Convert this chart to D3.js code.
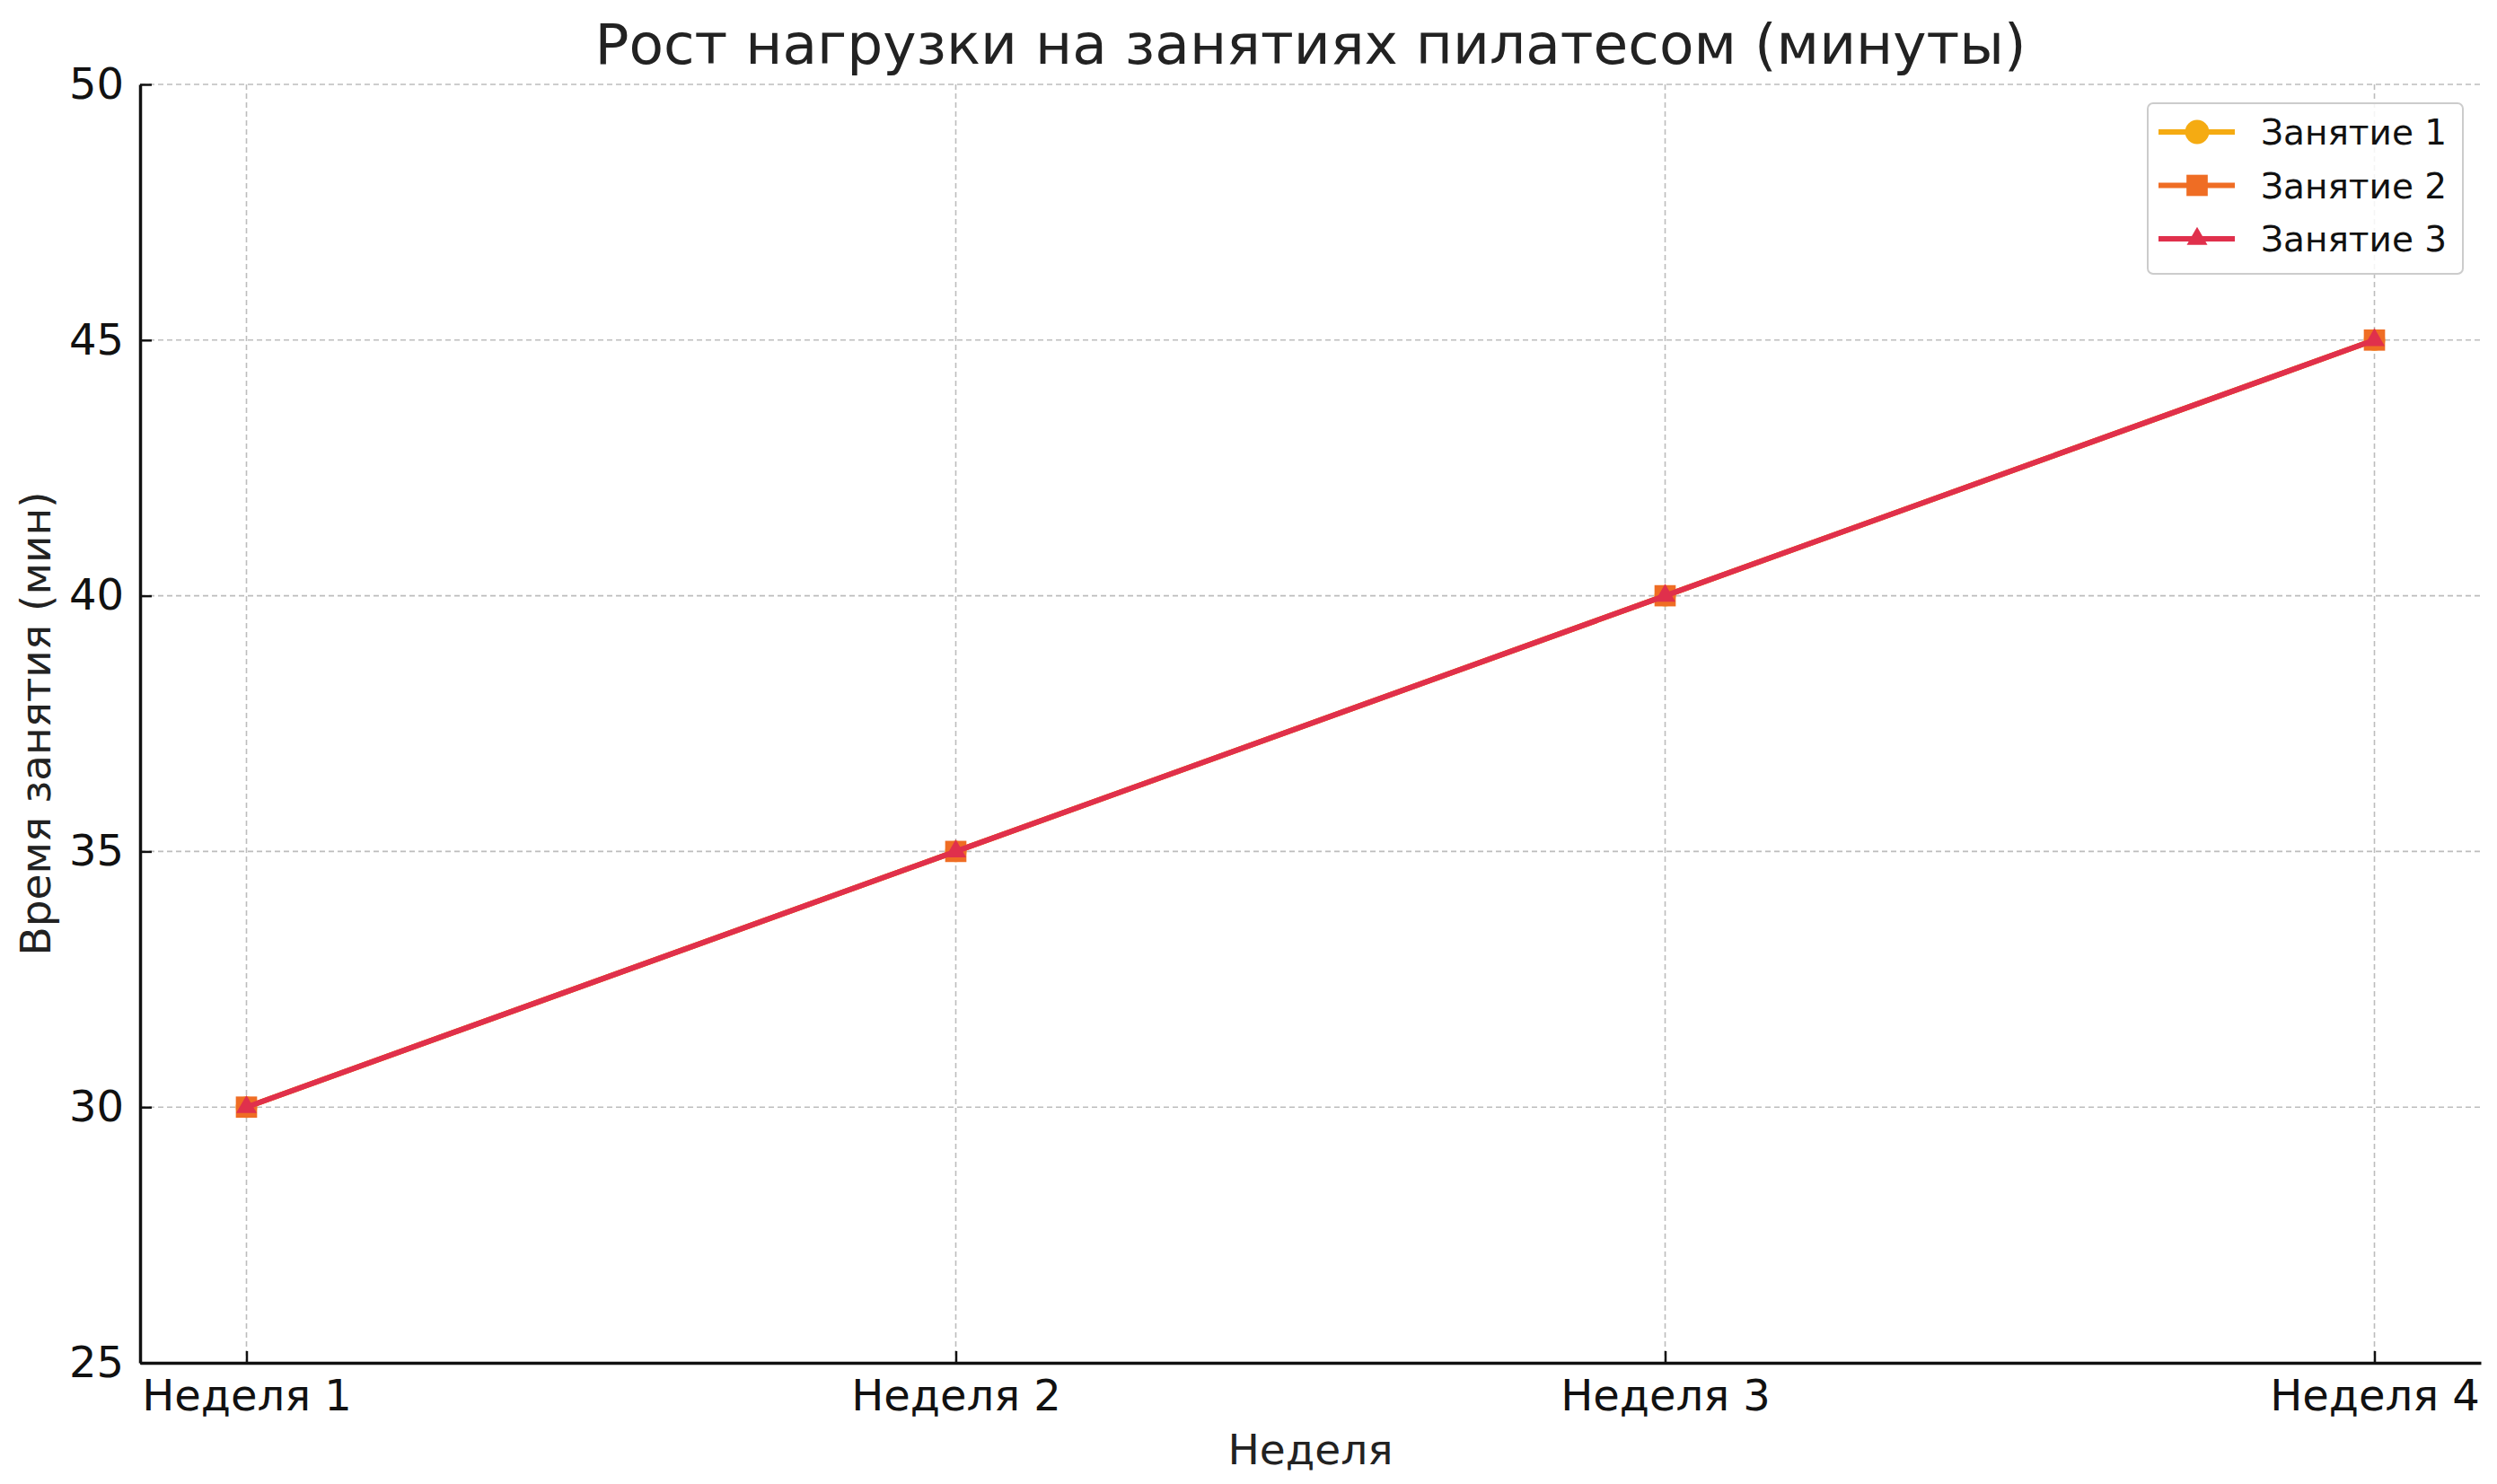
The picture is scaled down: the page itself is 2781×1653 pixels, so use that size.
<!DOCTYPE html>
<html>
<head>
<meta charset="utf-8">
<script src="https://cdn.jsdelivr.net/npm/d3@7"></script>
<style>
  body { margin: 0; background: #fff; }
  svg { display: block; font-family: "DejaVu Sans", sans-serif; }
</style>
</head>
<body>
<svg id="chart" width="2781" height="1653"></svg>
<script>
// data
var weeks = ['Неделя 1', 'Неделя 2', 'Неделя 3', 'Неделя 4']
var session1 = [30, 35, 40, 45]
var session2 = [30, 35, 40, 45]
var session3 = [30, 35, 40, 45]
var seriesNames = ['Занятие 1', 'Занятие 2', 'Занятие 3']
var yTicks = [25, 30, 35, 40, 45, 50]

var series = [
  { name: seriesNames[0], values: session1, color: '#f5ab12', marker: 'circle' },
  { name: seriesNames[1], values: session2, color: '#ef6d24', marker: 'square' },
  { name: seriesNames[2], values: session3, color: '#e0304c', marker: 'triangle' }
]

var W = 2781, H = 1653
var margin = { left: 156, right: 18, top: 94, bottom: 135 }
var innerW = W - margin.left - margin.right
var innerH = H - margin.top - margin.bottom

var svg = d3.select('#chart')
var g = svg.append('g').attr('transform', 'translate(' + margin.left + ',' + margin.top + ')')

// matplotlib style 5% padding on the category axis
var x = d3.scaleLinear().domain([-0.15, weeks.length - 1 + 0.15]).range([0, innerW])
var y = d3.scaleLinear().domain([25, 50]).range([innerH, 0])

// grid
g.append('g').selectAll('line.gx')
  .data(weeks)
  .enter().append('line')
  .attr('x1', function (d, i) { return x(i) })
  .attr('x2', function (d, i) { return x(i) })
  .attr('y1', 0).attr('y2', innerH)
  .style('stroke', '#bdbdbd').style('stroke-width', 1.6).style('stroke-dasharray', '6,4')

g.append('g').selectAll('line.gy')
  .data(yTicks)
  .enter().append('line')
  .attr('x1', 0).attr('x2', innerW)
  .attr('y1', function (d) { return y(d) })
  .attr('y2', function (d) { return y(d) })
  .style('stroke', '#bdbdbd').style('stroke-width', 1.6).style('stroke-dasharray', '6,4')

// axes
var xAxis = d3.axisBottom(x)
  .tickValues(d3.range(weeks.length))
  .tickFormat(function (i) { return weeks[i] })
  .tickSizeInner(-13).tickSizeOuter(0).tickPadding(19)

var yAxis = d3.axisLeft(y)
  .tickValues(yTicks)
  .tickSizeInner(-13).tickSizeOuter(0).tickPadding(18)

var gx = g.append('g').attr('transform', 'translate(0,' + innerH + ')').call(xAxis)
var gy = g.append('g').call(yAxis)

;[gx, gy].forEach(function (a) {
  a.select('.domain').style('stroke', '#111').style('stroke-width', 3.5)
  a.selectAll('.tick line').style('stroke', '#111').style('stroke-width', 2.5)
  a.selectAll('.tick text').style('font-size', '48px').style('fill', '#111')
    .style('font-family', '"DejaVu Sans", sans-serif')
})

// lines and markers
var line = d3.line()
  .x(function (d, i) { return x(i) })
  .y(function (d) { return y(d) })

var markerSize = { circle: 450, square: 560, triangle: 230 }

function markerPath (type, k) {
  var sym = type === 'circle' ? d3.symbolCircle : type === 'square' ? d3.symbolSquare : d3.symbolTriangle
  return d3.symbol().type(sym).size(markerSize[type] * k)()
}

series.forEach(function (s) {
  g.append('path')
    .datum(s.values)
    .attr('d', line)
    .style('fill', 'none')
    .style('stroke', s.color)
    .style('stroke-width', 6)

  g.append('g').selectAll('path')
    .data(s.values)
    .enter().append('path')
    .attr('transform', function (d, i) { return 'translate(' + x(i) + ',' + y(d) + ')' })
    .attr('d', markerPath(s.marker, 1))
    .style('fill', s.color)
})

// title and labels
svg.append('text')
  .attr('x', margin.left + innerW / 2).attr('y', 71)
  .attr('text-anchor', 'middle')
  .style('font-size', '63px').style('fill', '#222')
  .text('Рост нагрузки на занятиях пилатесом (минуты)')

svg.append('text')
  .attr('x', margin.left + innerW / 2).attr('y', 1631)
  .attr('text-anchor', 'middle')
  .style('font-size', '47px').style('fill', '#222')
  .text('Неделя')

svg.append('text')
  .attr('transform', 'translate(56,' + (margin.top + innerH / 2) + ') rotate(-90)')
  .attr('text-anchor', 'middle')
  .style('font-size', '47px').style('fill', '#222')
  .text('Время занятия (мин)')

// legend
var legend = svg.append('g').attr('transform', 'translate(2392,115)')
legend.append('rect')
  .attr('width', 351).attr('height', 190)
  .attr('rx', 6)
  .style('fill', '#fff').style('fill-opacity', 0.85)
  .style('stroke', '#cccccc').style('stroke-width', 2)

series.forEach(function (s, i) {
  var row = legend.append('g').attr('transform', 'translate(0,' + (32 + i * 59.5) + ')')
  row.append('line')
    .attr('x1', 12).attr('x2', 97)
    .style('stroke', s.color).style('stroke-width', 6)
  row.append('path')
    .attr('transform', 'translate(55,0)')
    .attr('d', markerPath(s.marker, s.marker === 'circle' ? 1.25 : 1))
    .style('fill', s.color)
  row.append('text')
    .attr('x', 126).attr('y', 14)
    .style('font-size', '39px').style('fill', '#111')
    .text(s.name)
})
</script>
</body>
</html>
